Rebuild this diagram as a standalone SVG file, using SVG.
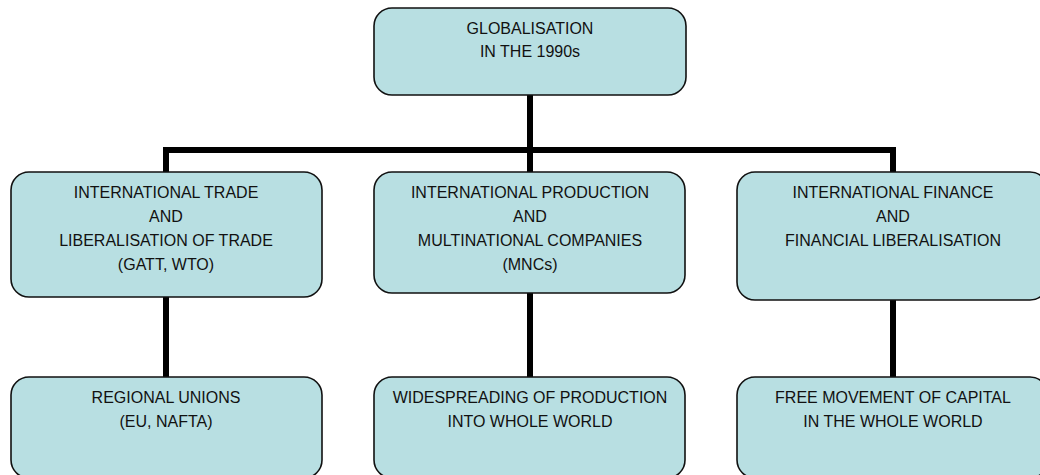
<svg xmlns="http://www.w3.org/2000/svg" width="1040" height="475" viewBox="0 0 1040 475">
  <style>
    .box { fill: #b8dfe2; stroke: #111; stroke-width: 1.6; }
    .link { fill: none; stroke: #000; stroke-width: 6; stroke-linecap: butt; stroke-linejoin: miter; }
    .label { font-family: "Liberation Sans", Arial, sans-serif; font-size: 16px; fill: #111; text-anchor: middle; }
  </style>
  <rect width="1040" height="475" fill="#ffffff"/>

  <!-- connectors -->
  <g id="connectors">
    <path class="link" d="M530 95 V172"/>
    <path class="link" d="M166 172 V150 H893 V172"/>
    <path class="link" d="M166 297 V377"/>
    <path class="link" d="M530 293 V377"/>
    <path class="link" d="M893 300 V377"/>
  </g>

  <!-- root -->
  <g id="globalisation">
    <rect class="box" x="374" y="8" width="312" height="87" rx="18"/>
    <text class="label" x="530" y="34">GLOBALISATION</text>
    <text class="label" x="530" y="57">IN THE 1990s</text>
  </g>

  <!-- second level -->
  <g id="trade">
    <rect class="box" x="11" y="172" width="311" height="125" rx="18"/>
    <text class="label" x="166" y="198">INTERNATIONAL TRADE</text>
    <text class="label" x="166" y="222">AND</text>
    <text class="label" x="166" y="246">LIBERALISATION OF TRADE</text>
    <text class="label" x="166" y="270">(GATT, WTO)</text>
  </g>
  <g id="production">
    <rect class="box" x="374" y="172" width="311" height="121" rx="18"/>
    <text class="label" x="530" y="198">INTERNATIONAL PRODUCTION</text>
    <text class="label" x="530" y="222">AND</text>
    <text class="label" x="530" y="246">MULTINATIONAL COMPANIES</text>
    <text class="label" x="530" y="270">(MNCs)</text>
  </g>
  <g id="finance">
    <rect class="box" x="737" y="172" width="311" height="128" rx="18"/>
    <text class="label" x="893" y="198">INTERNATIONAL FINANCE</text>
    <text class="label" x="893" y="222">AND</text>
    <text class="label" x="893" y="246">FINANCIAL LIBERALISATION</text>
  </g>

  <!-- third level -->
  <g id="regional-unions">
    <rect class="box" x="11" y="377" width="311" height="101" rx="18"/>
    <text class="label" x="166" y="403">REGIONAL UNIONS</text>
    <text class="label" x="166" y="427">(EU, NAFTA)</text>
  </g>
  <g id="widespreading">
    <rect class="box" x="374" y="377" width="311" height="101" rx="18"/>
    <text class="label" x="530" y="403">WIDESPREADING OF PRODUCTION</text>
    <text class="label" x="530" y="427">INTO WHOLE WORLD</text>
  </g>
  <g id="capital">
    <rect class="box" x="737" y="377" width="311" height="101" rx="18"/>
    <text class="label" x="893" y="403">FREE MOVEMENT OF CAPITAL</text>
    <text class="label" x="893" y="427">IN THE WHOLE WORLD</text>
  </g>
</svg>
